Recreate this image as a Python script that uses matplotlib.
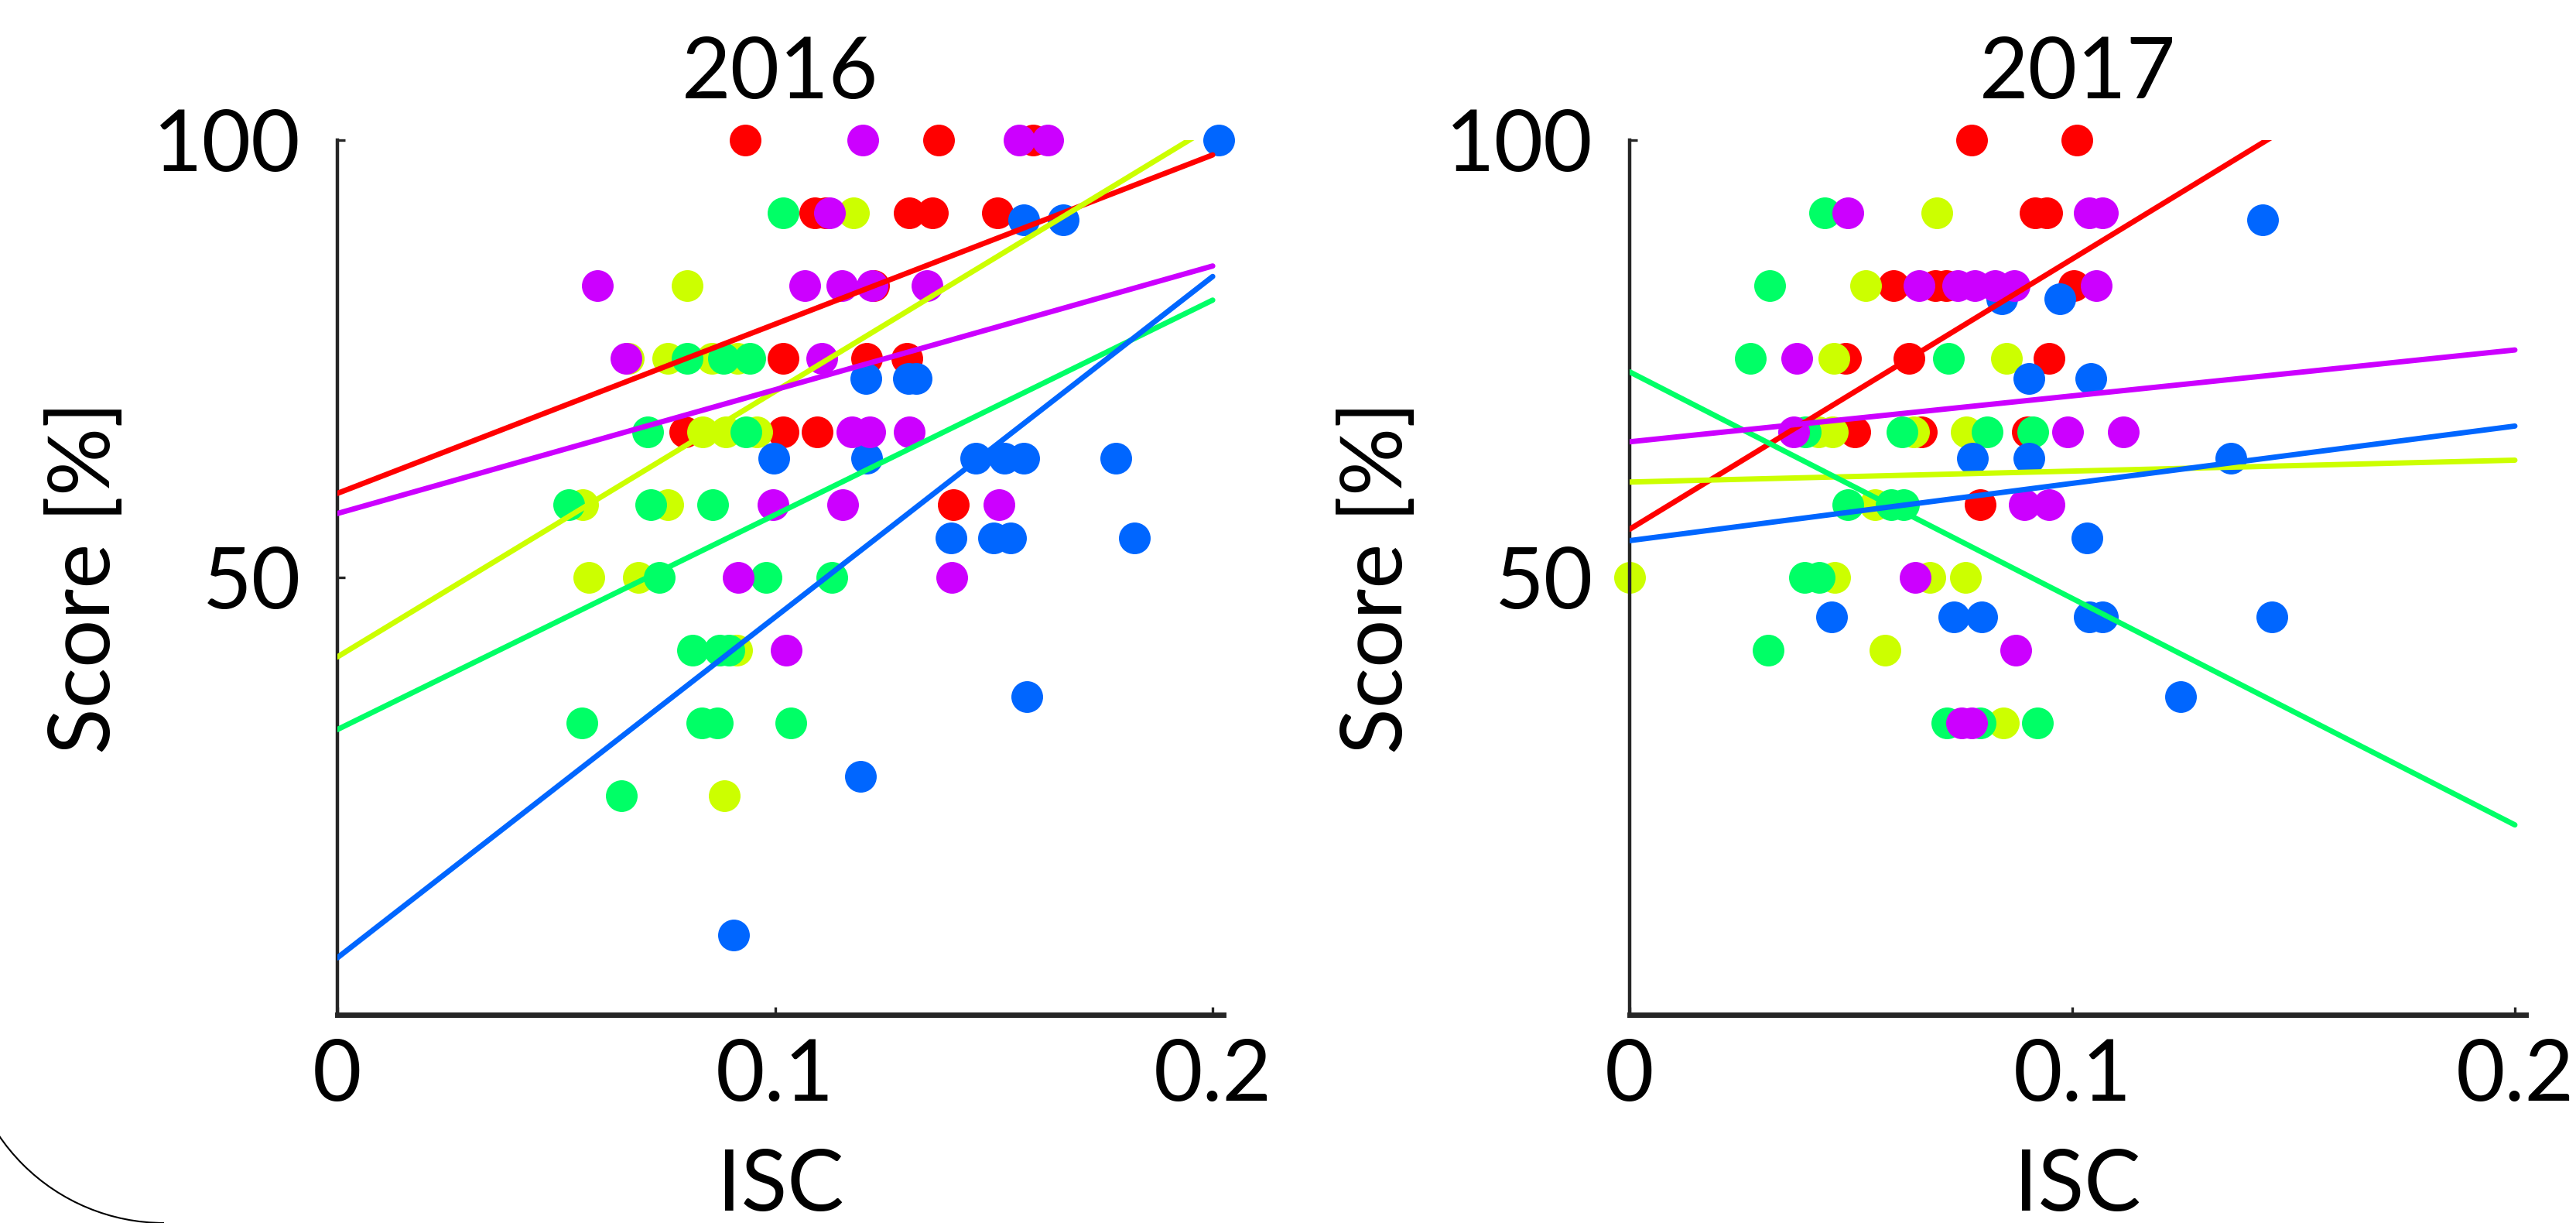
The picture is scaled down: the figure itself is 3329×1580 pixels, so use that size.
import matplotlib
matplotlib.use('Agg')
import matplotlib.pyplot as plt
from matplotlib.patches import Arc
import numpy as np

plt.rcParams['font.family'] = ['Lato', 'DejaVu Sans']

# colours of the five groups (hsv(5) in drawing order)
colors = ['#FF0000', '#CCFF00', '#00FF66', '#0066FF', '#CC00FF']

# ---- 2016 ----
isc16_red = [0.0932, 0.1374, 0.159, 0.1091, 0.1115, 0.1306, 0.136, 0.1508, 0.1225,
             0.1018, 0.121, 0.1302, 0.0794, 0.1018, 0.1097, 0.1408]
score16_red = [100, 100, 100, 91.67, 91.67, 91.67, 91.67, 91.67, 83.33,
               75, 75, 75, 66.67, 66.67, 66.67, 58.33]

isc16_yellow = [0.1179, 0.0799, 0.0665, 0.0755, 0.0856, 0.0914, 0.0835, 0.0888, 0.0959,
                0.0561, 0.0755, 0.0575, 0.0688, 0.0912, 0.0884]
score16_yellow = [91.67, 83.33, 75, 75, 75, 75, 66.67, 66.67, 66.67,
                  58.33, 58.33, 50, 50, 41.67, 25]

isc16_green = [0.1018, 0.0799, 0.0882, 0.0943, 0.0709, 0.0934, 0.0529, 0.0716, 0.0858,
               0.0736, 0.098, 0.113, 0.0812, 0.0874, 0.0895, 0.0558, 0.0833, 0.0868,
               0.1036, 0.0649]
score16_green = [91.67, 75, 75, 75, 66.67, 66.67, 58.33, 58.33, 58.33,
                 50, 50, 50, 41.67, 41.67, 41.67, 33.33, 33.33, 33.33,
                 33.33, 25]

isc16_blue = [0.2014, 0.1569, 0.1659, 0.1208, 0.1305, 0.1323, 0.0997, 0.121, 0.1459,
              0.1524, 0.1569, 0.1779, 0.1402, 0.15, 0.1539, 0.1821, 0.1576, 0.1195,
              0.0906]
score16_blue = [100, 90.91, 90.91, 72.73, 72.73, 72.73, 63.64, 63.64, 63.64,
                63.64, 63.64, 63.64, 54.55, 54.55, 54.55, 54.55, 36.36, 27.27,
                9.09]

isc16_purple = [0.12, 0.1558, 0.1623, 0.1125, 0.0594, 0.1068, 0.1153, 0.1222, 0.1347,
                0.066, 0.1107, 0.1176, 0.1216, 0.1306, 0.0996, 0.1155, 0.1512, 0.0916,
                0.1404, 0.1026]
score16_purple = [100, 100, 100, 91.67, 83.33, 83.33, 83.33, 83.33, 83.33,
                  75, 75, 66.67, 66.67, 66.67, 58.33, 58.33, 58.33, 50,
                  50, 41.67]

# fitted lines (intercept at ISC=0, slope)
fit16_icpt = [59.6, 40.9, 32.6, 6.5, 57.3]
fit16_slope = [193.5, 303.6, 245.5, 389.5, 141.5]

# ---- 2017 ----
isc17_red = [0.0773, 0.1010, 0.0916, 0.0942, 0.0596, 0.069, 0.0715, 0.1003, 0.0488,
             0.0631, 0.0948, 0.0509, 0.066, 0.0898, 0.0792]
score17_red = [100, 100, 91.67, 91.67, 83.33, 83.33, 83.33, 83.33, 75,
               75, 75, 66.67, 66.67, 66.67, 58.33]

isc17_yellow = [0.0694, 0.0533, 0.0462, 0.0851, 0.0427, 0.0458, 0.0642, 0.076, 0.0554,
                0.0, 0.0463, 0.0678, 0.0759, 0.0577, 0.0844]
score17_yellow = [91.67, 83.33, 75, 75, 66.67, 66.67, 66.67, 66.67, 58.33,
                  50, 50, 50, 50, 41.67, 33.33]

isc17_green = [0.0441, 0.0316, 0.0273, 0.072, 0.0397, 0.0616, 0.0808, 0.0911, 0.0493,
               0.0591, 0.0619, 0.0395, 0.0428, 0.0313, 0.0717, 0.0792, 0.0921]
score17_green = [91.67, 83.33, 75, 75, 66.67, 66.67, 66.67, 66.67, 58.33,
                 58.33, 58.33, 50, 50, 41.67, 33.33, 33.33, 33.33]

isc17_blue = [0.143, 0.0841, 0.0972, 0.0902, 0.1042, 0.0775, 0.0902, 0.1358, 0.1033,
              0.0456, 0.0732, 0.0796, 0.1038, 0.1068, 0.1451, 0.1245]
score17_blue = [90.91, 81.82, 81.82, 72.73, 72.73, 63.64, 63.64, 63.64, 54.55,
                45.45, 45.45, 45.45, 45.45, 45.45, 45.45, 36.36]

isc17_purple = [0.0493, 0.1038, 0.1068, 0.0654, 0.0741, 0.078, 0.0825, 0.0869, 0.1054,
                0.0377, 0.0371, 0.099, 0.1115, 0.0892, 0.0948, 0.0645, 0.0872, 0.075,
                0.0773]
score17_purple = [91.67, 91.67, 91.67, 83.33, 83.33, 83.33, 83.33, 83.33, 83.33,
                  75, 66.67, 66.67, 66.67, 58.33, 58.33, 50, 41.67, 33.33,
                  33.33]

fit17_icpt = [55.5, 60.9, 73.5, 54.2, 65.5]
fit17_slope = [309.0, 12.5, -259.0, 65.5, 52.5]

years = ['2016', '2017']
xticks = [0, 0.1, 0.2]
xticklabels = ['0', '0.1', '0.2']
yticks = [50, 100]

panel_pts = [
    [(isc16_red, score16_red), (isc16_yellow, score16_yellow), (isc16_green, score16_green),
     (isc16_blue, score16_blue), (isc16_purple, score16_purple)],
    [(isc17_red, score17_red), (isc17_yellow, score17_yellow), (isc17_green, score17_green),
     (isc17_blue, score17_blue), (isc17_purple, score17_purple)],
]
panel_fit = [(fit16_icpt, fit16_slope), (fit17_icpt, fit17_slope)]

fig = plt.figure(figsize=(33.3, 15.8), dpi=100)
ax_pos = [[0.1309, 0.1703, 0.3438, 0.7152],
          [0.6324, 0.1703, 0.3477, 0.7152]]

fs = 79
axis_col = '#262626'
for k in range(2):
    ax = fig.add_axes(ax_pos[k])
    for c, (xs, ys) in enumerate(panel_pts[k]):
        ax.scatter(xs, ys, s=870, color=colors[c], linewidths=0, clip_on=False, zorder=2)
    icpt, slope = panel_fit[k]
    xl = np.array([0, 0.2])
    for c in range(5):
        ax.plot(xl, icpt[c] + slope[c] * xl, color=colors[c], lw=5, zorder=3,
                solid_capstyle='round')

    ax.set_xlim(0, 0.2024)
    ax.set_ylim(0, 100)
    ax.set_xticks(xticks)
    ax.set_xticklabels(xticklabels)
    ax.set_yticks(yticks)
    for s in ['top', 'right']:
        ax.spines[s].set_visible(False)
    ax.spines['left'].set_linewidth(3.2)
    ax.spines['bottom'].set_linewidth(5)
    ax.spines['left'].set_color(axis_col)
    ax.spines['bottom'].set_color(axis_col)
    ax.tick_params(axis='both', direction='in', length=7, width=2.4, color=axis_col,
                   labelsize=fs, labelcolor='black')
    ax.tick_params(axis='x', pad=22)
    ax.tick_params(axis='y', pad=34)
    ax.set_title(years[k], fontsize=fs, pad=39)
    ax.set_xlabel('ISC', fontsize=fs, labelpad=30)
    ax.set_ylabel('Score [%]', fontsize=fs, labelpad=27)

# stray curved stroke in the lower left corner of the picture
arc = Arc((0.06366, 0.1633), 0.15495, 0.32658, theta1=180, theta2=270,
          transform=fig.transFigure, color='black', lw=1.5)
fig.add_artist(arc)

fig.savefig('out.png', dpi=100)
